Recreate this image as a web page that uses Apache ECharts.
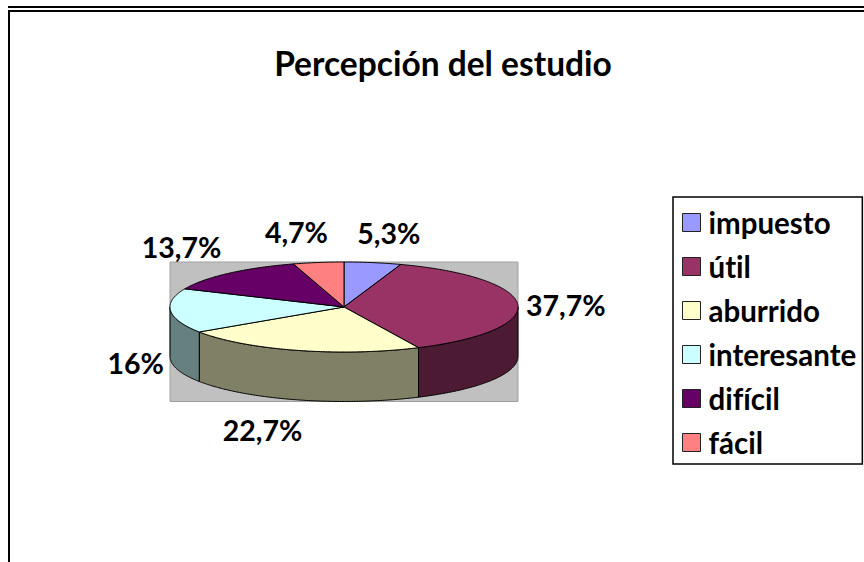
<!DOCTYPE html>
<html><head><meta charset="utf-8">
<style>html,body{margin:0;padding:0;background:#fff}#c{width:864px;height:562px}svg text{font-variant-ligatures:none;font-feature-settings:"liga" 0,"clig" 0}</style>
<script src="https://cdn.jsdelivr.net/npm/echarts@6/dist/echarts.min.js"></script>
</head><body><div id="c"></div>
<script>
const categories = ['impuesto','útil','aburrido','interesante','difícil','fácil'];
const values = [5.3,37.7,22.7,16,13.7,4.7];
const topColors = ['#9999FF','#993366','#FFFFCC','#CCFFFF','#660066','#FF8080'];
const sideColors = ['#4D4D80','#4D1A33','#808066','#668080','#330033','#804040'];
const labelOffsets = [[16,-30],[48,0],[-35,80],[-35,52],[-47,-26],[-22,-30]];

const CX=344, CY=307, RX=174, RY=45, DEPTH=49.5;
const FONT='Lato, "Open Sans", sans-serif';
const total = values.reduce((a,b)=>a+b,0);
const starts = values.map((_,i)=>values.slice(0,i).reduce((a,b)=>a+b,0)/total*2*Math.PI);
const pt=(a,dy)=>[CX+RX*Math.sin(a), CY-RY*Math.cos(a)+(dy||0)];
function arc(a0,a1,dy){
  const n=Math.max(2,Math.ceil((a1-a0)/0.01)), p=[];
  for(let k=0;k<=n;k++) p.push(pt(a0+(a1-a0)*k/n,dy));
  return p;
}
const render = i => () => {
  const a0=starts[i], a1=a0+values[i]/total*2*Math.PI;
  const kids=[];
  const s0=Math.max(a0,Math.PI/2), s1=Math.min(a1,Math.PI*1.5);
  if(s1>s0){
    kids.push({type:'polygon',z2:1,shape:{points:arc(s0,s1,0).concat(arc(s0,s1,DEPTH).reverse())},
      style:{fill:sideColors[i],stroke:'#000',lineWidth:1}});
  }
  kids.push({type:'polygon',z2:10,shape:{points:[[CX,CY]].concat(arc(a0,a1,0))},
    style:{fill:topColors[i],stroke:'#000',lineWidth:1}});
  const m=pt((a0+a1)/2,0);
  kids.push({type:'text',z2:20,x:m[0]+labelOffsets[i][0],y:m[1]+labelOffsets[i][1],
    style:{text:String(values[i]).replace('.',',')+'%',fill:'#000',font:'bold 28.5px '+FONT,align:'center',verticalAlign:'middle'}});
  return {type:'group',children:kids};
};
const chart=echarts.init(document.getElementById('c'),null,{renderer:'svg'});
chart.setOption({
  animation:false,
  backgroundColor:'#fff',
  title:{text:'Percepción del estudio',left:438,top:41,textAlign:'center',
    textStyle:{fontFamily:FONT,fontWeight:'bold',fontSize:33.5,color:'#000'}},
  legend:{data:categories,orient:'vertical',left:673,top:197,selectedMode:false,
    icon:'rect',itemWidth:18,itemHeight:18,itemGap:14,padding:[10.5,6,6.5,9],
    borderColor:'#000',borderWidth:1.5,
    itemStyle:{borderColor:'#222',borderWidth:1},
    textStyle:{fontFamily:FONT,fontWeight:'bold',fontSize:29.5,lineHeight:18,color:'#000',padding:[0,0,0,3]}},
  graphic:{elements:[
    {type:'rect',z:0,shape:{x:170,y:262,width:348,height:139.5},style:{fill:'#C0C0C0',stroke:'#A0A0A0',lineWidth:1}},
    {type:'rect',z:0,shape:{x:8,y:6,width:856,height:2},style:{fill:'#000'}},
    {type:'rect',z:0,shape:{x:8,y:10,width:856,height:2},style:{fill:'#000'}},
    {type:'rect',z:0,shape:{x:8,y:10,width:2,height:552},style:{fill:'#000'}}
  ]},
  series:categories.map((name,i)=>({type:'custom',name,coordinateSystem:'none',z:2,silent:true,
    itemStyle:{color:topColors[i]},data:[values[i]],renderItem:render(i)}))
});
</script></body></html>
